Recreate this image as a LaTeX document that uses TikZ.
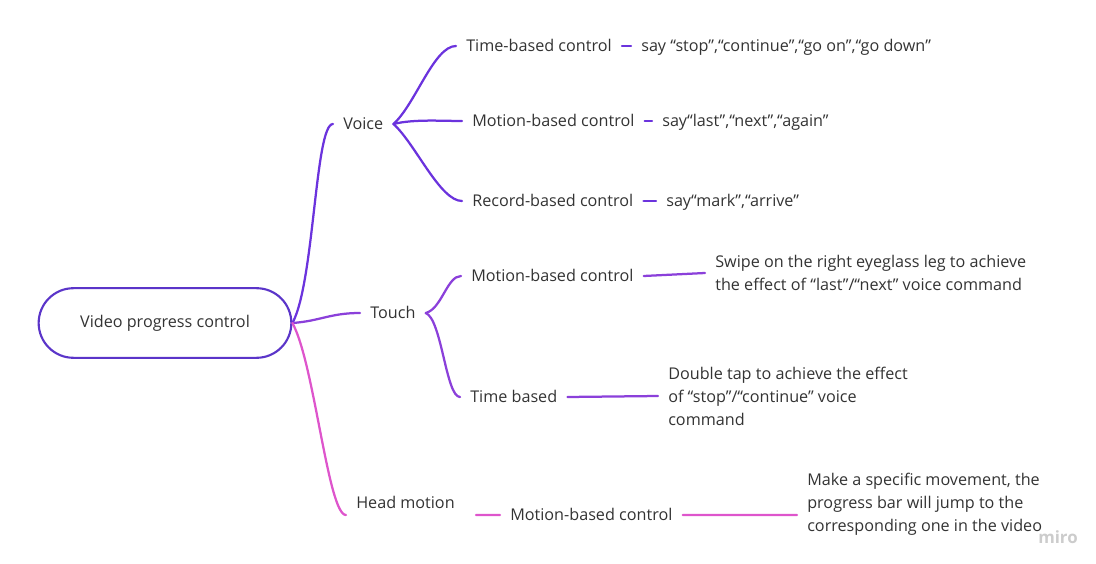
\documentclass[tikz,border=0pt]{standalone}
\usepackage{fontspec}
\setmainfont{Open Sans}
\usetikzlibrary{shapes.misc}

\definecolor{rootviolet}{HTML}{5B35C9}
\definecolor{voiceviolet}{HTML}{6B33DD}
\definecolor{touchviolet}{HTML}{8B40DA}
\definecolor{headpink}{HTML}{DE55CC}
\definecolor{labelgray}{HTML}{333333}

\begin{document}
\begin{tikzpicture}[x=0.025cm, y=-0.025cm]

\useasboundingbox (0,0) rectangle (1096,564);

\node (root) at (165,323) [draw=rootviolet, line width=1.5pt, rounded rectangle,
    minimum width=6.55cm, minimum height=1.74cm, text=labelgray,
    font=\fontsize{11.5}{16.3}\selectfont] {Video progress control};

\begin{scope}[every node/.style={anchor=west, inner xsep=0.25cm, inner ysep=1pt,
              text height=8.5pt, text depth=0pt, text=labelgray,
              font=\fontsize{11.5}{16.3}\selectfont}]
    \node (voice) at (333,124) {Voice};
    \node (touch) at (360,313) {Touch};
    \node (head) at (346,503) {Head motion};

    \node (vtime) at (456,46) {Time-based control};
    \node (vmotion) at (462,121) {Motion-based control};
    \node (vrecord) at (462,201) {Record-based control};

    \node (vtimesay) at (631,46) {say “stop”,“continue”,“go on”,“go down”};
    \node (vmotionsay) at (652,121) {say“last”,“next”,“again”};
    \node (vrecordsay) at (656,201) {say“mark”,“arrive”};

    \node (tmotion) at (461,276) {Motion-based control};
    \node (ttime) at (460,397) {Time based};
    \node (hmotion) at (500,515) {Motion-based control};

    \node (tmotiondesc) at (705,273) [text height=, text depth=, align=left]
        {Swipe on the right eyeglass leg to achieve\\the effect of “last”/“next” voice command};
    \node (ttimedesc) at (658,396) [text height=, text depth=, align=left]
        {Double tap to achieve the effect\\of “stop”/“continue” voice\\command};
    \node (hmotiondesc) at (797,504) [text height=, text depth=, align=left]
        {Make a specific movement, the\\progress bar will jump to the\\corresponding one in the video};
\end{scope}

% voice branch
\begin{scope}[draw=voiceviolet, line width=1.6pt, line cap=round]
    \draw (root.east) .. controls +(22,-40) and +(-18,0) .. (voice.west);
    \draw (voice.east) .. controls +(22,-20) and +(-22,0) .. (vtime.west);
    \draw (voice.east) .. controls +(20,-5) and +(-20,0) .. (vmotion.west);
    \draw (voice.east) .. controls +(22,20) and +(-22,0) .. (vrecord.west);
    \draw (vtime.east) -- (vtimesay.west);
    \draw (vmotion.east) -- (vmotionsay.west);
    \draw (vrecord.east) -- (vrecordsay.west);
\end{scope}

% touch branch
\begin{scope}[draw=touchviolet, line width=1.6pt, line cap=round]
    \draw (root.east) .. controls +(28,-2) and +(-30,0) .. (touch.west);
    \draw (touch.east) .. controls +(16,-4) and +(-14,0) .. (tmotion.west);
    \draw (touch.east) .. controls +(16,6) and +(-14,0) .. (ttime.west);
    \draw (tmotion.east) -- (tmotiondesc.west);
    \draw (ttime.east) -- (ttimedesc.west);
\end{scope}

% head branch
\begin{scope}[draw=headpink, line width=1.6pt, line cap=round]
    \draw (root.east) .. controls +(22,40) and +(-18,0) .. ([yshift=-0.3cm]head.west);
    \draw ([xshift=0.275cm, yshift=-0.3cm]head.east) -- (hmotion.west);
    \draw (hmotion.east) -- ([yshift=-0.275cm]hmotiondesc.west);
\end{scope}

\node (miro) at (1058,537) [text=black!20, font=\fontsize{12}{14}\selectfont\bfseries] {miro};

\end{tikzpicture}
\end{document}
